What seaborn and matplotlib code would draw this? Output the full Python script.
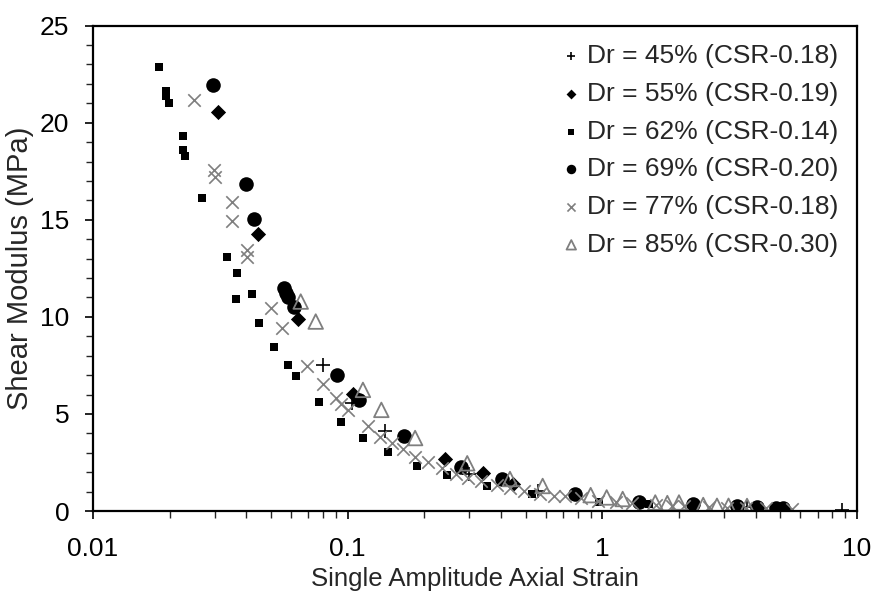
import matplotlib
matplotlib.use("Agg")
import matplotlib.pyplot as plt
import seaborn as sns
import numpy as np
from matplotlib.ticker import LogLocator, MultipleLocator, FixedLocator, NullFormatter

# ---- data ----
labels = ["Dr = 45% (CSR-0.18)", "Dr = 55% (CSR-0.19)", "Dr = 62% (CSR-0.14)",
          "Dr = 69% (CSR-0.20)", "Dr = 77% (CSR-0.18)", "Dr = 85% (CSR-0.30)"]

x45 = [0.0798, 0.1039, 0.1396, 0.2983, 0.561, 3.69, 8.76]
y45 = [7.53, 5.58, 4.10, 1.93, 1.04, 0.22, 0.03]

x55 = [0.0310, 0.0444, 0.0637, 0.1046, 0.2412, 0.340, 0.445]
y55 = [20.53, 14.28, 9.90, 6.03, 2.69, 1.97, 1.39]

x62 = [0.0182, 0.0194, 0.0194, 0.0198, 0.0226, 0.0226, 0.0230, 0.0269, 0.0335,
       0.0368, 0.0365, 0.0421, 0.0448, 0.0513, 0.0582, 0.0625, 0.0772, 0.0939,
       0.1152, 0.1439, 0.1873, 0.2455, 0.3516, 0.528, 0.967, 1.519]
y62 = [22.85, 21.61, 21.36, 21.02, 19.31, 18.61, 18.31, 16.10, 13.09,
       12.25, 10.93, 11.17, 9.71, 8.47, 7.53, 6.97, 5.60, 4.60,
       3.78, 3.06, 2.32, 1.84, 1.29, 0.89, 0.48, 0.36]

x69 = [0.0297, 0.0399, 0.0429, 0.0563, 0.0571, 0.0583, 0.0614, 0.0908, 0.1107,
       0.1658, 0.2774, 0.4027, 0.781, 1.397, 2.28, 3.37, 4.04, 4.80, 5.14]
y69 = [21.92, 16.84, 15.04, 11.48, 11.25, 11.02, 10.50, 7.01, 5.74,
       3.87, 2.27, 1.63, 0.86, 0.48, 0.35, 0.26, 0.22, 0.15, 0.17]

x77 = [0.0250, 0.0299, 0.0301, 0.0350, 0.0350, 0.0401, 0.0401, 0.0498, 0.0550,
       0.0695, 0.0800, 0.0903, 0.0945, 0.1003, 0.1201, 0.1335, 0.1498, 0.1648,
       0.1843, 0.206, 0.2342, 0.2652, 0.298, 0.3324, 0.385, 0.4357, 0.4943,
       0.571, 0.648, 0.714, 0.825, 0.964, 1.132, 1.303, 1.624, 1.870, 2.097,
       2.628, 3.10, 3.66, 4.38, 5.55]
y77 = [21.19, 17.58, 17.20, 15.94, 14.96, 13.42, 13.11, 10.48, 9.42,
       7.47, 6.53, 5.81, 5.52, 5.21, 4.40, 3.83, 3.52, 3.17,
       2.78, 2.54, 2.20, 1.93, 1.72, 1.55, 1.36, 1.17, 1.03,
       0.86, 0.79, 0.77, 0.67, 0.53, 0.45, 0.40, 0.32, 0.26, 0.26,
       0.19, 0.14, 0.14, 0.14, 0.10]

x85 = [0.0654, 0.0749, 0.1148, 0.1356, 0.184, 0.2948, 0.4338, 0.583, 0.900,
       1.04, 1.202, 1.614, 1.80, 2.00, 2.49, 2.82, 3.13, 3.70]
y85 = [10.79, 9.76, 6.24, 5.21, 3.76, 2.46, 1.65, 1.29, 0.82,
       0.70, 0.62, 0.44, 0.41, 0.44, 0.31, 0.27, 0.27, 0.26]

x_ticks = [0.01, 0.1, 1, 10]
x_tick_labels = ["0.01", "0.1", "1", "10"]
y_ticks = [0, 5, 10, 15, 20, 25]

# ---- style ----
sns.set_style("ticks")
plt.rcParams['font.family'] = ['Liberation Sans', 'DejaVu Sans']

fig = plt.figure(figsize=(8.71, 5.97), dpi=100)
ax = fig.add_axes([0.1068, 0.144, 0.9839 - 0.1068, 0.957 - 0.144])

gray = "#7f7f7f"
series = [
    (x45, y45, dict(marker="+", s=90, color="black", linewidth=1.2)),
    (x55, y55, dict(marker="D", s=60, color="black", edgecolor="black", linewidth=0)),
    (x62, y62, dict(marker="s", s=32, color="black", edgecolor="black", linewidth=0)),
    (x69, y69, dict(marker="o", s=110, color="black", edgecolor="black", linewidth=0)),
    (x77, y77, dict(marker="x", s=80, color=gray, linewidth=1.2)),
    (x85, y85, dict(marker="^", s=110, facecolor="none", edgecolor=gray, linewidth=1.3)),
]
for (xs, ys, kw), lab in zip(series, labels):
    sns.scatterplot(x=xs, y=ys, ax=ax, label=lab, legend=False, **kw)

ax.set_xscale("log")
ax.set_xlim(0.01, 10)
ax.set_ylim(0, 25)
ax.xaxis.set_major_locator(FixedLocator(x_ticks))
ax.set_xticklabels(x_tick_labels)
ax.xaxis.set_minor_locator(LogLocator(base=10, subs=np.arange(2, 10)))
ax.xaxis.set_minor_formatter(NullFormatter())
ax.yaxis.set_major_locator(FixedLocator(y_ticks))
ax.yaxis.set_minor_locator(MultipleLocator(1))

for sp in ax.spines.values():
    sp.set_visible(True)
    sp.set_color("black")
    sp.set_linewidth(1.6)

ax.tick_params(axis="both", which="major", direction="out", length=6, width=1.2,
               labelsize=19, colors="black")
ax.tick_params(axis="both", which="minor", direction="out", length=5, width=1.0)
ax.tick_params(axis="x", which="major", pad=13)
ax.tick_params(axis="y", which="major", pad=11)

ax.set_xlabel("Single Amplitude Axial Strain", fontsize=18.5, labelpad=4)
ax.set_ylabel("Shear Modulus (MPa)", fontsize=21, labelpad=4)

handles = ax.collections
leg = ax.legend(handles=handles, labels=labels, loc="upper right",
                bbox_to_anchor=(1.0, 1.0), frameon=False, fontsize=19,
                markerscale=0.65, handlelength=0.6, handletextpad=0.3,
                labelspacing=0.52, borderaxespad=0.3)

fig.savefig("out.png", dpi=100)
